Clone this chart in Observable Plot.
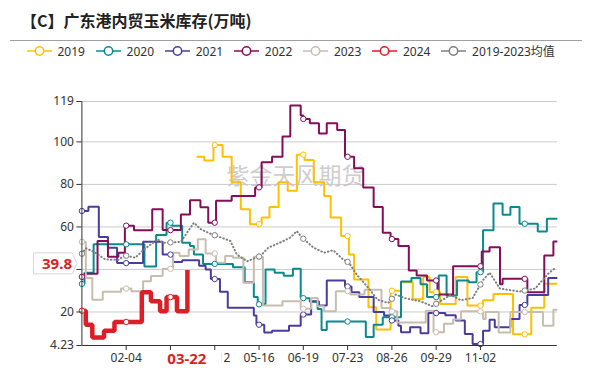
<!DOCTYPE html>
<html>
<head>
<meta charset="utf-8">
<script src="https://cdn.jsdelivr.net/npm/d3@7"></script>
<script src="https://cdn.jsdelivr.net/npm/@observablehq/plot@0.6"></script>
<style>
  html, body { margin: 0; padding: 0; background: #fff; }
  #wrap { position: relative; width: 590px; height: 370px; overflow: hidden;
          font-family: "Noto Sans", "Noto Sans CJK SC", sans-serif; color: #333; }
  #title { position: absolute; left: 21px; top: 10px; font-size: 16px; line-height: 20px;
           font-weight: bold; color: #222; font-family: "Noto Sans CJK SC", sans-serif; white-space: nowrap; }
  #rule { position: absolute; left: 10px; top: 40px; width: 572px; height: 1px; background: #a0a0a0; }
  #legend { position: absolute; left: 0; top: 43px; width: 590px; height: 16px; }
  .item { position: absolute; top: 0; height: 16px; display: flex; align-items: center; font-size: 12px; color: #333; white-space: nowrap; }
  .item svg { margin-right: 6px; }
  #chart { position: absolute; left: 0; top: 65px; }
</style>
</head>
<body>
<div id="wrap">
  <div id="title">【C】广东港内贸玉米库存(万吨)</div>
  <div id="rule"></div>
  <div id="legend"></div>
  <div id="chart"></div>
</div>
<script>
// ---------------- data ----------------
const seriesNames = ["2019", "2020", "2021", "2022", "2023", "2024", "2019-2023均值"];
const seriesColors = ["#FFC000", "#0B8A8E", "#4A3C9C", "#850E5B", "#C8BDAE", "#DC1E26", "#7F7F7F"];

const s2019 = [["03-29",93],["04-04",91.2],["04-11",98.5],["04-18",93],["04-25",81],["05-02",68.3],["05-09",61.3],["05-18",64.4],["05-24",69.4],["05-31",81],["06-07",77],["06-14",94],["06-20",91.5],["06-27",81],["07-05",74.6],["07-10",64.4],["07-18",55.7],["07-24",47],["07-28",35.3],["08-08",22.2],["08-14",11.7],["08-25",30],["09-02",34],["09-11",26],["09-19",36.4],["09-24",29.3],["10-02",23.8],["10-14",36.4],["10-23",23],["11-04",25.5],["11-12",28.5],["11-27",9.5],["12-11",22],["12-21",33.3],["12-31",33.3]];
const s2020 = [["01-01",33.2],["01-03",38.5],["01-10",51.8],["02-18",41.4],["02-27",56.2],["03-06",62],["03-10",60.5],["03-18",52.6],["03-24",51],["03-27",47],["04-03",42.6],["04-26",41],["05-05",34],["05-12",27],["05-15",23.6],["05-21",40],["05-28",38.5],["06-04",37],["06-11",40.3],["06-17",26.5],["06-24",24.8],["06-30",21.4],["07-03",11.5],["07-07",15.5],["08-06",8.2],["08-12",14],["08-19",17.5],["09-02",34.3],["09-10",36],["09-17",33],["09-22",27],["10-01",37.2],["10-07",27.8],["10-15",34.8],["10-24",34],["10-30",38.7],["11-04",58.4],["11-12",71],["11-19",65.7],["11-25",69.4],["12-02",61.5],["12-16",57.8],["12-23",63.9],["12-31",63.9]];
const s2021 = [["01-01",67.5],["01-06",69.5],["01-14",55.3],["01-21",50.2],["01-28",43],["02-17",53],["03-03",47],["03-11",43.5],["03-18",44.3],["03-31",41.8],["04-05",40],["04-09",35.5],["04-16",29.5],["04-22",22],["05-12",18.3],["05-14",14],["05-20",10.3],["05-26",11.2],["06-08",13.5],["06-17",18.8],["06-25",25],["07-01",23],["07-07",34.8],["07-21",32],["07-26",29.3],["08-01",27],["08-12",20],["08-20",18.3],["08-25",16],["08-31",13.5],["09-02",10.5],["09-09",12.8],["09-17",10],["09-23",19.5],["10-06",18.5],["10-14",16],["10-21",9.6],["10-27",4.9],["11-04",11.2],["11-09",16.4],["11-13",12.8],["11-25",16.7],["12-02",23.3],["12-08",28],["12-24",36],["12-31",36]];
const s2022 = [["01-01",36.5],["01-03",38],["01-13",53.4],["01-21",46],["01-29",47.9],["02-03",60.6],["02-10",58.4],["02-24",68.3],["03-03",58.5],["03-17",65.8],["03-24",72.6],["04-01",69.2],["04-07",62],["04-13",72.3],["04-25",74.6],["05-13",78.6],["05-18",90.4],["05-26",93],["06-03",102.5],["06-09",117.1],["06-17",112.4],["06-19",110.8],["06-24",108.8],["07-01",104],["07-07",108.8],["07-15",105.6],["07-21",93],["07-28",87.6],["08-04",78.6],["08-12",69.4],["08-19",57.3],["08-25",54.3],["08-31",51],["09-08",39.5],["09-14",37.2],["09-22",34.8],["09-30",28.2],["10-12",41.5],["11-03",48.5],["11-09",50.5],["11-17",33],["11-19",35.6],["12-08",29.3],["12-21",46.6],["12-28",53.2],["12-31",53.2]];
const s2023 = [["01-01",53],["01-04",36],["01-09",25.8],["01-17",29.5],["01-31",31],["02-08",29.7],["02-17",34.5],["02-23",36.9],["03-03",40.3],["03-11",47.9],["03-16",46.3],["03-23",49.4],["03-30",54.2],["04-05",47.5],["04-13",43.2],["04-20",46.3],["04-26",45.5],["05-04",33.7],["05-12",46],["05-19",23.1],["06-03",25],["06-17",21.5],["06-25",26.6],["06-30",22.7],["07-05",20.3],["07-14",29.8],["07-25",28.2],["08-05",30.5],["08-18",21.9],["08-25",20.3],["08-30",15],["09-21",20.6],["09-27",10.5],["10-05",14.5],["10-12",16.5],["10-18",20.3],["11-04",16.7],["11-06",20],["11-16",10.4],["11-25",20],["12-20",13.5],["12-28",21],["12-31",21]];
const s2024 = [["01-01",20.6],["01-04",14],["01-09",8],["01-18",11.2],["01-26",15.3],["02-16",29.3],["02-23",25],["03-01",20.3],["03-06",27],["03-14",20.3],["03-22",39.8]];
const sAvg = [["01-01",47.4],["01-04",50],["01-11",48],["01-19",44.7],["01-29",44.5],["02-03",46.6],["02-11",45.5],["02-17",49],["02-28",54.2],["03-03",52.5],["03-17",53],["03-27",62],["04-01",59],["04-08",57],["04-24",53.4],["04-29",47],["05-07",43.9],["05-17",46.3],["05-23",50.2],["06-01",52.6],["06-09",55],["06-14",58],["06-18",55],["06-27",50.2],["07-05",47.9],["07-12",49],["07-19",45],["07-24",43.2],["07-30",37.6],["08-08",31.3],["08-15",25.8],["08-23",24.2],["08-29",28.2],["09-05",26.5],["09-17",25],["09-26",22.7],["10-10",28],["10-18",25.5],["10-27",26.6],["11-04",35],["11-09",38.5],["11-17",31],["12-02",29.6],["12-14",31],["12-24",38],["12-30",41]];

const xTickLabels = ["02-04","03-09","04-12","05-16","06-19","07-23","08-26","09-29","11-02"];
const markerDates = ["01-01","02-04","03-09","04-12","05-16","06-19","07-23","08-26","09-29","11-02","12-06"];
const yTicks = [4.23, 20, 40, 60, 80, 100, 119];
const currentDate = "03-22";
const currentValue = 39.8;
const watermark = "紫金天风期货";

// ---------------- helpers ----------------
const parse = s => new Date(Date.UTC(2024, +s.slice(0, 2) - 1, +s.slice(3, 5)));
const allSeries = [s2019, s2020, s2021, s2022, s2023, s2024, sAvg];
const rows = allSeries.map((arr, i) => arr.map(([d, v]) => ({ name: seriesNames[i], date: parse(d), value: v })));

function valueAt(arr, d, linear) {
  const t = +parse(d);
  const pts = arr.map(([dd, v]) => [+parse(dd), v]);
  if (t < pts[0][0] || t > pts[pts.length - 1][0]) return null;
  for (let i = pts.length - 1; i >= 0; i--) {
    if (pts[i][0] <= t) {
      if (linear && i < pts.length - 1 && pts[i][0] < t) {
        const [t0, v0] = pts[i], [t1, v1] = pts[i + 1];
        return v0 + (v1 - v0) * (t - t0) / (t1 - t0);
      }
      return pts[i][1];
    }
  }
  return null;
}
const markers = allSeries.map((arr, i) =>
  markerDates.map(d => ({ date: parse(d), value: valueAt(arr, d, i === 6) })).filter(p => p.value != null));

// ---------------- legend ----------------
const legend = document.getElementById("legend");
seriesNames.forEach((n, i) => {
  const it = document.createElement("div");
  it.className = "item";
  it.style.left = (26.5 + i * 69.1) + "px";
  it.innerHTML = `<svg width="25" height="12"><line x1="0" x2="25" y1="6" y2="6" stroke="${seriesColors[i]}" stroke-width="1.5"/><circle cx="12.5" cy="6" r="4.2" fill="#fff" stroke="${seriesColors[i]}" stroke-width="1.5"/></svg><span>${n}</span>`;
  legend.appendChild(it);
});

// ---------------- chart ----------------
const lineMarks = rows.map((r, i) => Plot.line(r, {
  x: "date", y: "value",
  stroke: seriesColors[i],
  strokeWidth: i === 5 ? 4.5 : 2,
  curve: i === 6 ? "linear" : "step-after",
  strokeDasharray: i === 6 ? "0.5,3" : null,
  strokeLinecap: i === 6 ? "round" : "butt",
  strokeLinejoin: "miter"
}));
const dotMarks = markers.map((m, i) => Plot.dot(m, {
  x: "date", y: "value", r: 2.7, fill: "#fff", stroke: seriesColors[i], strokeWidth: 1
}));

const chart = Plot.plot({
  width: 590, height: 305,
  marginTop: 36, marginBottom: 25, marginLeft: 81.4, marginRight: 33.2,
  style: { fontFamily: "'Noto Sans', 'Noto Sans CJK SC', sans-serif", fontSize: "12px", color: "#333", background: "transparent", overflow: "visible" },
  x: { type: "utc", domain: [parse("01-01"), parse("12-31")] },
  y: { domain: [4.23, 119] },
  marks: [
    Plot.gridY(yTicks.filter(t => t > 4.23), { stroke: "#cccccc", strokeOpacity: 1, strokeWidth: 1 }),
    Plot.text([watermark], { frameAnchor: "top-left", dx: 213.6, dy: 75, textAnchor: "middle", lineAnchor: "middle",
      fontSize: 23, fill: "#c4c4c4", fillOpacity: 0.85, fontFamily: "'Noto Sans CJK SC', sans-serif" }),
    ...lineMarks,
    ...dotMarks,
    Plot.ruleY([4.23], { stroke: "#333", strokeWidth: 1 }),
    Plot.ruleX([parse("01-01")], { stroke: "#333", strokeWidth: 1 }),
    Plot.axisY(yTicks, { tickSize: 5, tickPadding: 3, tickFormat: d => String(d), label: null, fontSize: 12 }),
    Plot.axisX(xTickLabels.map(parse), { tickSize: 5, tickPadding: 3, tickFormat: d3.utcFormat("%m-%d"), label: null, fontSize: 12 })
  ]
});
document.getElementById("chart").appendChild(chart);

// ---------------- current value / date pointer labels ----------------
const sx = chart.scale("x"), sy = chart.scale("y");
const svg = d3.select(chart);
const g = svg.append("g");
// x pointer label
const px = sx.apply(parse(currentDate));
const axisY0 = sy.apply(4.23);
g.append("rect").attr("x", px - 34.5).attr("y", axisY0 + 6).attr("width", 69).attr("height", 22).attr("fill", "#fff");
g.append("text").attr("x", px).attr("y", axisY0 + 14).attr("text-anchor", "middle").attr("dy", "0.35em")
  .attr("fill", "#DC1E26").attr("font-weight", "bold").attr("font-size", 15)
  .attr("font-family", "'Noto Sans', sans-serif").text(currentDate);
// y pointer label
const py = sy.apply(currentValue) - 6;
g.append("path")
  .attr("d", `M33.5,${py - 10.5} H72 L77,${py} L72,${py + 10.5} H33.5 Z`)
  .attr("fill", "#fff").attr("stroke", "#d8d8d8").attr("stroke-width", 1);
g.append("text").attr("x", 57).attr("y", py).attr("text-anchor", "middle").attr("dy", "0.35em")
  .attr("fill", "#DC1E26").attr("font-weight", "bold").attr("font-size", 15)
  .attr("font-family", "'Noto Sans', sans-serif").text(String(currentValue));
</script>
</body>
</html>
